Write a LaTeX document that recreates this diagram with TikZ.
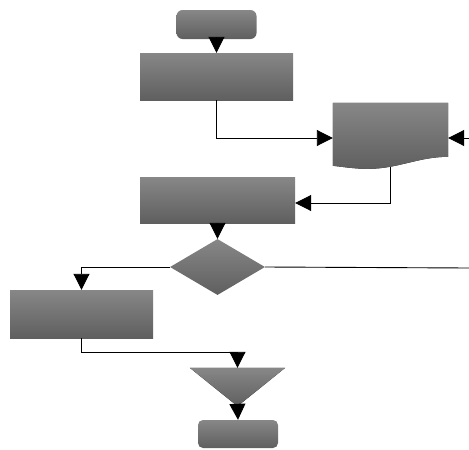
\documentclass[tikz,border=0pt]{standalone}
\usetikzlibrary{arrows.meta,shapes.geometric,calc}
\definecolor{gtop}{RGB}{135,135,135}
\definecolor{gbot}{RGB}{95,95,95}
\tikzset{
  grayfill/.style={top color=gtop,bottom color=gbot,draw=none},
  boxn/.style={grayfill,rectangle,inner sep=0pt},
  termn/.style={grayfill,rectangle,rounded corners=6pt,inner sep=0pt},
  holder/.style={rectangle,draw=none,fill=none,inner sep=0pt},
  decn/.style={grayfill,diamond,inner sep=0pt,aspect=1.7},
  conn/.style={line width=0.9pt,-{Triangle[length=16pt,width=16pt]}},
  plain/.style={line width=0.9pt},
}
\begin{document}
\begin{tikzpicture}[x=1pt,y=-1pt]
\useasboundingbox (0,0) rectangle (469,450);
% nodes
\node[termn,minimum width=80pt,minimum height=29pt] (start) at (216.5,24.5) {};
\node[boxn,minimum width=153pt,minimum height=47pt] (r1) at (216.5,76.5) {};
\node[holder,minimum width=115pt,minimum height=66pt] (doc) at (390.5,136) {};
\fill[grayfill] (doc.north west) -- (doc.north east) -- ($(doc.north east)+(0,54)$)
  .. controls ($(doc.north east)+(-30,54)$) and ($(doc.north east)+(-50,66)$) .. ($(doc.north east)+(-80,66)$)
  .. controls ($(doc.north east)+(-95,66)$) and ($(doc.north east)+(-105,64)$) .. ($(doc.north west)+(0,63)$) -- cycle;
\node[boxn,minimum width=155pt,minimum height=46pt] (r2) at (217.5,200) {};
\node[decn,minimum width=95pt,minimum height=56pt] (dia) at (217.5,267) {};
\node[boxn,minimum width=143pt,minimum height=48pt] (r3) at (81.5,314) {};
\node[holder,minimum width=95pt,minimum height=38pt] (tri) at (237.5,387) {};
\fill[grayfill] (tri.north west) -- (tri.north east) -- (tri.south) -- cycle;
\node[termn,minimum width=80pt,minimum height=28pt,rounded corners=5pt] (endn) at (238,434) {};
% free ends
\coordinate (inR) at (469,138);
\coordinate (outR) at (469,268);
\coordinate (jn) at (237.5,352);
% connectors
\draw[conn] (start.south) -- (r1.north);
\draw[conn] (r1.south) |- ($(doc.west)+(0,2)$);
\draw[conn] (inR) -- ($(doc.east)+(0,2)$);
\draw[conn] ($(doc.south)+(0,-2)$) |- ($(r2.east)+(0,3)$);
\draw[conn] (r2.south) -- (dia.north);
\draw[conn] (dia.west) -| (r3.north);
\draw[plain] (dia.east) -- (outR);
\draw[conn] (r3.south) |- (jn) -- (tri.north);
\draw[conn] (tri.south) -- (endn.north);
\end{tikzpicture}
\end{document}
